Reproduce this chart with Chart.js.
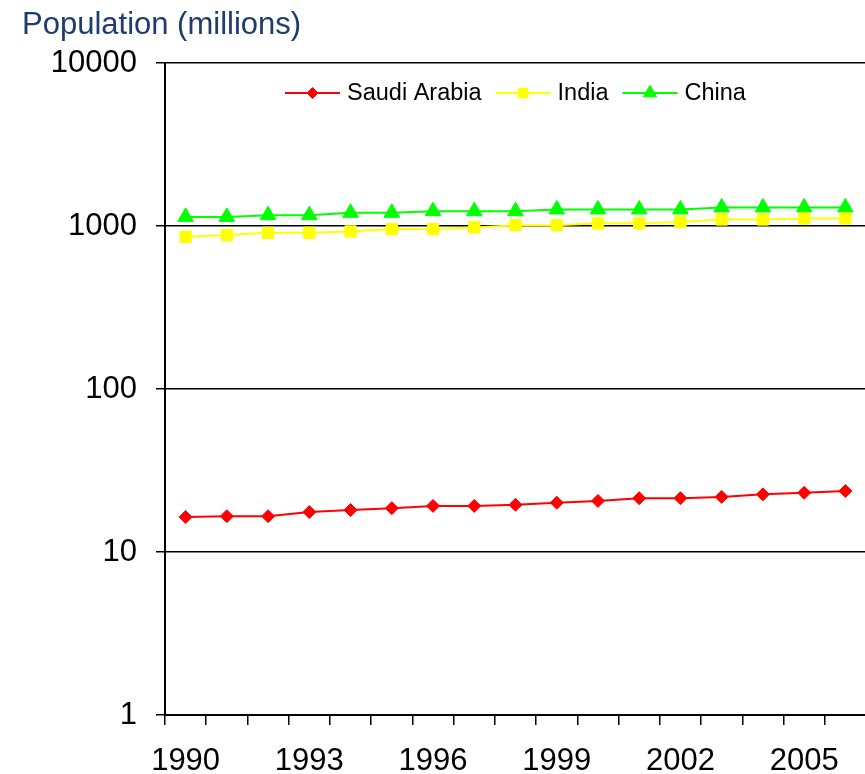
<!DOCTYPE html>
<html>
<head>
<meta charset="utf-8">
<title>Population (millions)</title>
<script src="https://cdn.jsdelivr.net/npm/chart.js@4/dist/chart.umd.min.js"></script>
<style>
  html, body { margin: 0; padding: 0; background: #fff; overflow: hidden; }
  #wrap { position: relative; width: 876px; height: 774px; }
</style>
</head>
<body>
<div id="wrap"><canvas id="chart"></canvas></div>
<script>
// Years on the category axis
const years = ['1990', '1991', '1992', '1993', '1994', '1995', '1996', '1997', '1998',
               '1999', '2000', '2001', '2002', '2003', '2004', '2005', '2006'];
// Only every third year carries a label
const labeledYears = ['1990', '1993', '1996', '1999', '2002', '2005'];

// Population in millions
const saudiArabia = [16.4, 16.6, 16.6, 17.6, 18.1, 18.6, 19.2, 19.2, 19.5, 20.1,
                     20.6, 21.4, 21.4, 21.8, 22.6, 23.1, 23.7];
const india = [860, 881, 910, 910, 928, 959, 959, 982, 1014, 1014,
               1040, 1040, 1062, 1099, 1099, 1115, 1115];
const china = [1140, 1140, 1168, 1168, 1207, 1207, 1236, 1236, 1236, 1266,
               1266, 1266, 1266, 1303, 1303, 1303, 1303];

// Powers of ten shown on the log axis
const yTicks = [1, 10, 100, 1000, 10000];

const FONT = '"Liberation Sans", Arial, Helvetica, sans-serif';
Chart.defaults.font.family = FONT;

// Draws one marker shape centred on (x, y)
function drawMarker(ctx, style, r, x, y) {
  ctx.beginPath();
  if (style === 'rectRot') {
    ctx.moveTo(x, y - r);
    ctx.lineTo(x + r, y);
    ctx.lineTo(x, y + r);
    ctx.lineTo(x - r, y);
  } else if (style === 'rect') {
    const s = Math.SQRT1_2 * r;
    ctx.rect(x - s, y - s, 2 * s, 2 * s);
  } else {
    const h = r * 1.5, w = r * Math.sqrt(3) / 2;
    ctx.moveTo(x, y - r);
    ctx.lineTo(x + w, y - r + h);
    ctx.lineTo(x - w, y - r + h);
  }
  ctx.closePath();
  ctx.fill();
  ctx.stroke();
}

// Legend drawn inside the plot: a line sample with its marker, then the name
const lineLegend = {
  id: 'lineLegend',
  afterDraw(chart, args, opts) {
    const ctx = chart.ctx;
    ctx.save();
    ctx.font = opts.fontSize + 'px ' + FONT;
    ctx.textBaseline = 'middle';
    ctx.textAlign = 'left';
    let x = opts.x;
    const y = opts.y;
    chart.data.datasets.forEach(ds => {
      ctx.strokeStyle = ds.borderColor;
      ctx.lineWidth = ds.borderWidth;
      ctx.beginPath();
      ctx.moveTo(x, y);
      ctx.lineTo(x + opts.lineLength, y);
      ctx.stroke();
      ctx.fillStyle = ds.pointBackgroundColor;
      ctx.strokeStyle = ds.pointBorderColor;
      ctx.lineWidth = ds.pointBorderWidth;
      drawMarker(ctx, ds.pointStyle, ds.pointRadius * opts.markerScale, x + opts.lineLength / 2, y);
      x += opts.lineLength + opts.textGap;
      ctx.fillStyle = '#000';
      ctx.fillText(ds.label, x, y + 1);
      x += ctx.measureText(ds.label).width + opts.itemGap;
    });
    ctx.restore();
  }
};

new Chart(document.getElementById('chart'), {
  type: 'line',
  plugins: [lineLegend],
  data: {
    labels: years,
    datasets: [
      {
        label: 'Saudi Arabia',
        data: saudiArabia,
        borderColor: '#FF0000',
        backgroundColor: '#FF0000',
        pointBackgroundColor: '#FF0000',
        pointBorderColor: '#FF0000',
        pointStyle: 'rectRot',
        pointRadius: 6.5,
        pointBorderWidth: 1,
        borderWidth: 2,
        tension: 0
      },
      {
        label: 'India',
        data: india,
        borderColor: '#FFFF00',
        backgroundColor: '#FFFF00',
        pointBackgroundColor: '#FFFF00',
        pointBorderColor: '#FFFF00',
        pointStyle: 'rect',
        pointRadius: 8,
        pointBorderWidth: 1,
        borderWidth: 2,
        tension: 0
      },
      {
        label: 'China',
        data: china,
        borderColor: '#00FF00',
        backgroundColor: '#00FF00',
        pointBackgroundColor: '#00FF00',
        pointBorderColor: '#00FF00',
        pointStyle: 'triangle',
        pointRadius: 9,
        pointBorderWidth: 1,
        borderWidth: 2,
        tension: 0
      }
    ]
  },
  options: {
    responsive: true,
    maintainAspectRatio: false,
    animation: false,
    clip: false,
    layout: { padding: { left: 22, top: 7, right: 0, bottom: 0 } },
    plugins: {
      legend: { display: false },
      tooltip: { enabled: false },
      title: {
        display: true,
        text: 'Population (millions)',
        align: 'start',
        color: '#1F3B70',
        font: { size: 31, weight: 'normal' },
        padding: { top: 0, bottom: 19 }
      },
      lineLegend: { x: 285, y: 93, lineLength: 55, textGap: 7, itemGap: 14, fontSize: 23.5, markerScale: 0.85 }
    },
    scales: {
      x: {
        type: 'category',
        offset: true,
        grid: {
          offset: true,
          drawOnChartArea: false,
          drawTicks: true,
          tickLength: 10,
          color: '#000',
          lineWidth: 1.5
        },
        border: { color: '#000', width: 2 },
        ticks: {
          autoSkip: false,
          maxRotation: 0,
          color: '#000',
          padding: 18,
          font: { size: 31 },
          callback(value, index) {
            const yr = years[index];
            return labeledYears.includes(yr) ? yr : '';
          }
        },
        afterFit(scale) { scale.height = 59; }
      },
      y: {
        type: 'logarithmic',
        min: 1,
        max: 10000,
        afterBuildTicks(scale) {
          scale.ticks = yTicks.map(v => ({ value: v }));
        },
        grid: { color: '#000', lineWidth: 1.5, tickLength: 9 },
        border: { color: '#000', width: 2 },
        ticks: {
          color: '#000',
          padding: 19,
          font: { size: 31 },
          callback: value => String(value)
        },
        afterFit(scale) { scale.width = 143; }
      }
    }
  }
});
</script>
</body>
</html>
